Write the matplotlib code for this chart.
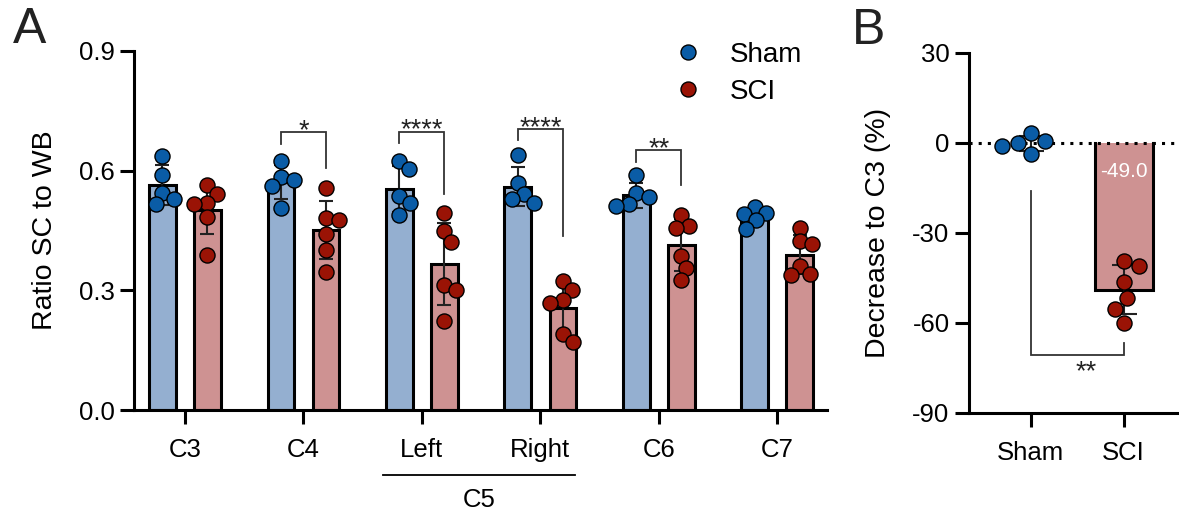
import numpy as np
import matplotlib
matplotlib.use('Agg')
import matplotlib.pyplot as plt
from matplotlib.lines import Line2D
import matplotlib.transforms as mtransforms

plt.rcParams['font.family'] = ['Liberation Sans', 'DejaVu Sans']
plt.rcParams['axes.unicode_minus'] = False

# ---------------- data ----------------
categories = ['C3', 'C4', 'Left', 'Right', 'C6', 'C7']
group_label = 'C5'
sham_vals = [
    [0.638, 0.590, 0.544, 0.529, 0.516],
    [0.625, 0.585, 0.577, 0.562, 0.506],
    [0.625, 0.604, 0.537, 0.518, 0.489],
    [0.640, 0.569, 0.541, 0.530, 0.519],
    [0.590, 0.543, 0.533, 0.516, 0.512],
    [0.510, 0.491, 0.495, 0.476, 0.455],
]
sci_vals = [
    [0.565, 0.542, 0.518, 0.516, 0.483, 0.389],
    [0.556, 0.481, 0.477, 0.441, 0.401, 0.345],
    [0.494, 0.448, 0.420, 0.313, 0.300, 0.223],
    [0.324, 0.300, 0.275, 0.269, 0.190, 0.171],
    [0.489, 0.462, 0.456, 0.387, 0.357, 0.326],
    [0.456, 0.423, 0.416, 0.362, 0.338, 0.342],
]
# significance brackets: (group index, top, left leg end, right leg end, label)
sig_A = [
    (1, 0.697, 0.667, 0.607, '*'),
    (2, 0.698, 0.669, 0.541, '****'),
    (3, 0.704, 0.677, 0.437, '****'),
    (4, 0.652, 0.622, 0.564, '**'),
]

b_categories = ['Sham', 'SCI']
b_sham = [3.3, -3.6, 0.6, -1.1, 0.0]
b_sci = [-41.1, -39.4, -46.5, -51.7, -55.3, -60.0]
sig_B = (-16.1, -70.6, -66.7, '**')

# ---------------- style ----------------
SHAM_FILL = '#94AFD0'
SCI_FILL = '#CE9292'
SHAM_DOT = '#0A5CA6'
SCI_DOT = '#9A1305'
LW = 2.2
TICK_FS = 18.5
LABEL_FS = 20.5
STAR_FS = 19.5
DOT_S = 118
DOT_D = 13.0  # px spacing for swarm

W, H = 1179, 512
fig = plt.figure(figsize=(W / 100, H / 100), dpi=100)


def px_axes(l, t, r, b):
    return [l / W, (H - b) / H, (r - l) / W, (b - t) / H]


def swarm_x(ax, xc, vals, diam):
    T = ax.transData
    vals = np.asarray(vals, float)
    pix = T.transform(np.column_stack([np.full(len(vals), xc), vals]))
    cx = pix[0, 0]
    ys = pix[:, 1]
    order = np.argsort(-ys)
    offs = np.zeros(len(vals))
    done = []
    for i in order:
        cands = [0.0]
        for j in done:
            dy = abs(ys[j] - ys[i])
            if dy < diam:
                dx = np.sqrt(diam ** 2 - dy ** 2) + 0.01
                cands += [offs[j] + dx, offs[j] - dx]
        cands = sorted(cands, key=lambda c: (abs(c), -c))
        for c in cands:
            if all((c - offs[j]) ** 2 + (ys[i] - ys[j]) ** 2 >= diam ** 2 - 1e-6 for j in done):
                offs[i] = c
                break
        done.append(i)
    data = T.inverted().transform(np.column_stack([cx + offs, ys]))
    return data[:, 0]


def style_axes(ax):
    for s in ['top', 'right']:
        ax.spines[s].set_visible(False)
    for s in ['left', 'bottom']:
        ax.spines[s].set_linewidth(LW)
        ax.spines[s].set_capstyle('projecting')
    ax.tick_params(axis='both', length=10, width=LW, labelsize=TICK_FS, direction='out')
    ax.tick_params(axis='y', pad=4)
    ax.tick_params(axis='x', pad=10.5)


# ---------------- panel A ----------------
axA = fig.add_axes(px_axes(134, 51, 827, 410))
style_axes(axA)
n = len(categories)
xg = np.arange(n)
off = 0.19
bw = 0.225
axA.set_xlim(-0.43, 5.42)
axA.set_ylim(0, 0.9)
axA.set_yticks([0.0, 0.3, 0.6, 0.9])
axA.set_yticklabels(['0.0', '0.3', '0.6', '0.9'])
axA.set_xticks(xg)
axA.set_xticklabels(categories)

sham_mean = [np.mean(v) for v in sham_vals]
sci_mean = [np.mean(v) for v in sci_vals]
sham_sd = [np.std(v, ddof=1) for v in sham_vals]
sci_sd = [np.std(v, ddof=1) for v in sci_vals]

axA.bar(xg - off, sham_mean, width=bw, color=SHAM_FILL, edgecolor='black', linewidth=LW, zorder=2)
axA.bar(xg + off, sci_mean, width=bw, color=SCI_FILL, edgecolor='black', linewidth=LW, zorder=2)
axA.errorbar(xg - off, sham_mean, yerr=sham_sd, fmt='none', ecolor='#222222',
             elinewidth=1.5, capsize=5, capthick=1.5, zorder=3)
axA.errorbar(xg + off, sci_mean, yerr=sci_sd, fmt='none', ecolor='#222222',
             elinewidth=1.5, capsize=5, capthick=1.5, zorder=3)
for i in range(n):
    xs = swarm_x(axA, xg[i] - off, sham_vals[i], DOT_D)
    axA.scatter(xs, sham_vals[i], s=DOT_S, color=SHAM_DOT, edgecolor='black', linewidth=1.0,
                zorder=4, clip_on=False)
    xs = swarm_x(axA, xg[i] + off, sci_vals[i], DOT_D)
    axA.scatter(xs, sci_vals[i], s=DOT_S, color=SCI_DOT, edgecolor='black', linewidth=1.0,
                zorder=4, clip_on=False)

for gi, top, le, re, lab in sig_A:
    x1, x2 = gi - off, gi + off
    axA.plot([x1, x1, x2, x2], [le, top, top, re], color='#333333', lw=1.3, zorder=5,
             solid_joinstyle='miter')
    axA.text(gi, top - 0.03, lab, ha='center', va='bottom', fontsize=STAR_FS, color='#222222')

axA.set_ylabel('Ratio SC to WB', fontsize=LABEL_FS, va='center')
axA.yaxis.set_label_coords(-0.128, 0.5)

# C5 group line and label
trans = mtransforms.blended_transform_factory(axA.transData, axA.transAxes)
axA.plot([1.67, 3.29], [-0.181, -0.181], color='black', lw=1.3, transform=trans, clip_on=False)
axA.text(2.48, -0.25, group_label, ha='center', va='center', fontsize=TICK_FS, transform=trans)

handles = [Line2D([], [], marker='o', ls='none', markersize=10.8, markerfacecolor=SHAM_DOT,
                  markeredgecolor='black', markeredgewidth=1.0),
           Line2D([], [], marker='o', ls='none', markersize=10.8, markerfacecolor=SCI_DOT,
                  markeredgecolor='black', markeredgewidth=1.0)]
axA.legend(handles, ['Sham', 'SCI'], loc='upper left', bbox_to_anchor=(674 / W, (H - 42) / H),
           bbox_transform=fig.transFigure, frameon=False, fontsize=20, handlelength=1.0,
           handletextpad=1.0, labelspacing=0.38, borderpad=0, borderaxespad=0)

# ---------------- panel B ----------------
axB = fig.add_axes(px_axes(969, 52.7, 1179, 412.7))
style_axes(axB)
axB.set_xlim(-0.665, 1.598)
axB.set_ylim(-90, 30)
axB.set_yticks([-90, -60, -30, 0, 30])
axB.set_xticks([0, 1])
axB.set_xticklabels(b_categories)

b_vals = [b_sham, b_sci]
b_mean = [np.mean(v) for v in b_vals]
b_sd = [np.std(v, ddof=1) for v in b_vals]
b_fill = [SHAM_FILL, SCI_FILL]
b_dot = [SHAM_DOT, SCI_DOT]
bbw = 0.625
bars = axB.bar([0, 1], b_mean, width=bbw, color=b_fill, edgecolor='none', zorder=2)
axB.axhline(0, color='black', lw=2.2, ls=(0, (1, 2)), zorder=2.5)
for k, rect in enumerate(bars):
    if abs(rect.get_height()) > 1:
        x0, w, h = rect.get_x(), rect.get_width(), rect.get_height()
        axB.plot([x0, x0, x0 + w, x0 + w], [0, h, h, 0], color='black', lw=LW, zorder=2.6,
                 solid_joinstyle='miter')
axB.errorbar([0, 1], b_mean, yerr=b_sd, fmt='none', ecolor='#222222', elinewidth=1.5,
             capsize=9, capthick=1.5, zorder=3)
for k in range(2):
    xs = swarm_x(axB, k, b_vals[k], 16.0)
    axB.scatter(xs, b_vals[k], s=DOT_S, color=b_dot[k], edgecolor='black', linewidth=1.0,
                zorder=4, clip_on=False)
axB.text(1, -9.5, f'{b_mean[1]:.1f}', color='white', ha='center', va='center', fontsize=15, zorder=5)

lt, bot, rt, lab = sig_B
axB.plot([0, 0, 1, 1], [lt, bot, bot, rt], color='#333333', lw=1.3, zorder=5, solid_joinstyle='miter')
axB.text(0.6, bot - 1.5, lab, ha='center', va='top', fontsize=STAR_FS, color='#222222')

axB.set_ylabel('Decrease to C3 (%)', fontsize=LABEL_FS, va='center')
axB.yaxis.set_label_coords(-0.433, 0.5)

# panel letters
fig.text(29.5 / W, (H - 30) / H, 'A', fontsize=36, ha='center', va='center', color='#222222')
fig.text(869 / W, (H - 31) / H, 'B', fontsize=36, ha='center', va='center', color='#222222')

fig.savefig('out.png', dpi=100)
